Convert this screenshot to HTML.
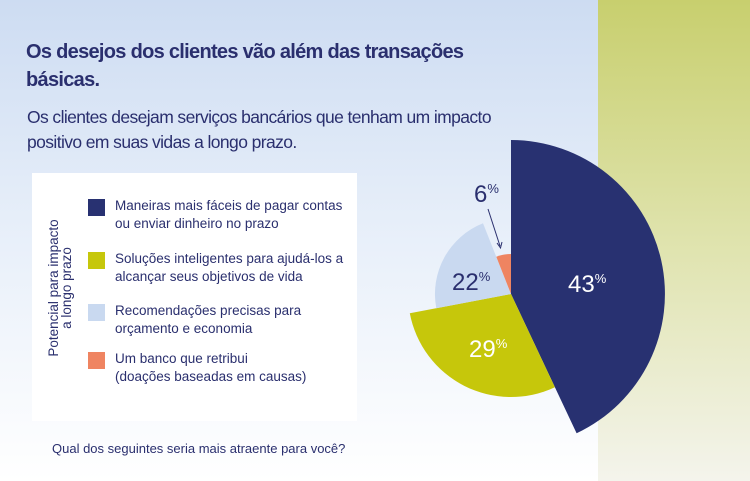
<!DOCTYPE html>
<html><head><meta charset="utf-8"><style>
body{margin:0;width:750px;height:481px;overflow:hidden;font-family:"Liberation Sans",sans-serif;color:#2a2f6e}
.bg{position:absolute;left:0;top:0;width:750px;height:481px;background:linear-gradient(180deg,#cddcf2 0%,#e6eef9 45%,#ffffff 100%)}
.right{position:absolute;left:598px;top:0;width:152px;height:481px;background:linear-gradient(180deg,#c8cf6e 0%,#dfe3ad 50%,#f4f4ec 100%)}
.t{position:absolute;left:26px;top:38px;font-size:20px;font-weight:bold;line-height:28px;width:560px;letter-spacing:-0.7px}
.s{position:absolute;left:27px;top:105px;font-size:17.5px;line-height:25px;width:580px;letter-spacing:-0.6px}
.box{position:absolute;left:32px;top:173px;width:325px;height:248px;background:#fff}
.lg{position:absolute;left:115px;font-size:13.5px;line-height:18px}
.sw{position:absolute;left:88px;width:17px;height:17px}
.v{position:absolute;left:47px;top:368px;transform-origin:0 0;transform:rotate(-90deg);font-size:13.5px;line-height:13px;text-align:center;width:160px}
.q{position:absolute;left:52px;top:441px;font-size:13px}
</style></head><body>
<div class="bg"></div><div class="right"></div>
<div class="t">Os desejos dos clientes vão além das transações<br>básicas.</div>
<div class="s">Os clientes desejam serviços bancários que tenham um impacto<br>positivo em suas vidas a longo prazo.</div>
<div class="box"></div>
<div class="v">Potencial para impacto<br>a longo prazo</div>
<div class="sw" style="top:199px;background:#283171"></div>
<div class="lg" style="top:197px">Maneiras mais fáceis de pagar contas<br>ou enviar dinheiro no prazo</div>
<div class="sw" style="top:252px;background:#c6c70b"></div>
<div class="lg" style="top:250px">Soluções inteligentes para ajudá-los a<br>alcançar seus objetivos de vida</div>
<div class="sw" style="top:304px;background:#c9d9f0"></div>
<div class="lg" style="top:302px">Recomendações precisas para<br>orçamento e economia</div>
<div class="sw" style="top:352px;background:#ef8461"></div>
<div class="lg" style="top:350px">Um banco que retribui<br>(doações baseadas em causas)</div>
<div class="q">Qual dos seguintes seria mais atraente para você?</div>
<svg style="position:absolute;left:0;top:0" width="750" height="481">
<path d="M511,294 L511,140 A154,154 0 0 1 576.6,433.3 Z" fill="#283171"/>
<path d="M511,294 L554.9,387.2 A103,103 0 0 1 409.8,313.3 Z" fill="#c6c70b"/>
<path d="M511,294 L436.3,308.2 A76,76 0 0 1 483,223.3 Z" fill="#c9d9f0"/>
<path d="M511,294 L496.3,256.8 A40,40 0 0 1 511,254 Z" fill="#ef8461"/>
<line x1="488" y1="209" x2="500" y2="246" stroke="#2a2f6e" stroke-width="1"/>
<path d="M497,243 L500.5,248 L502,242" fill="none" stroke="#2a2f6e" stroke-width="1"/>
<g font-family="Liberation Sans,sans-serif">
<text x="568" y="292" fill="#fff" font-size="24">43<tspan font-size="13" dy="-9">%</tspan></text>
<text x="469" y="357" fill="#fff" font-size="24">29<tspan font-size="13" dy="-9">%</tspan></text>
<text x="452" y="290" fill="#2a2f6e" font-size="24">22<tspan font-size="13" dy="-9">%</tspan></text>
<text x="474" y="202" fill="#2a2f6e" font-size="24">6<tspan font-size="13" dy="-9">%</tspan></text>
</g>
</svg>
</body></html>
